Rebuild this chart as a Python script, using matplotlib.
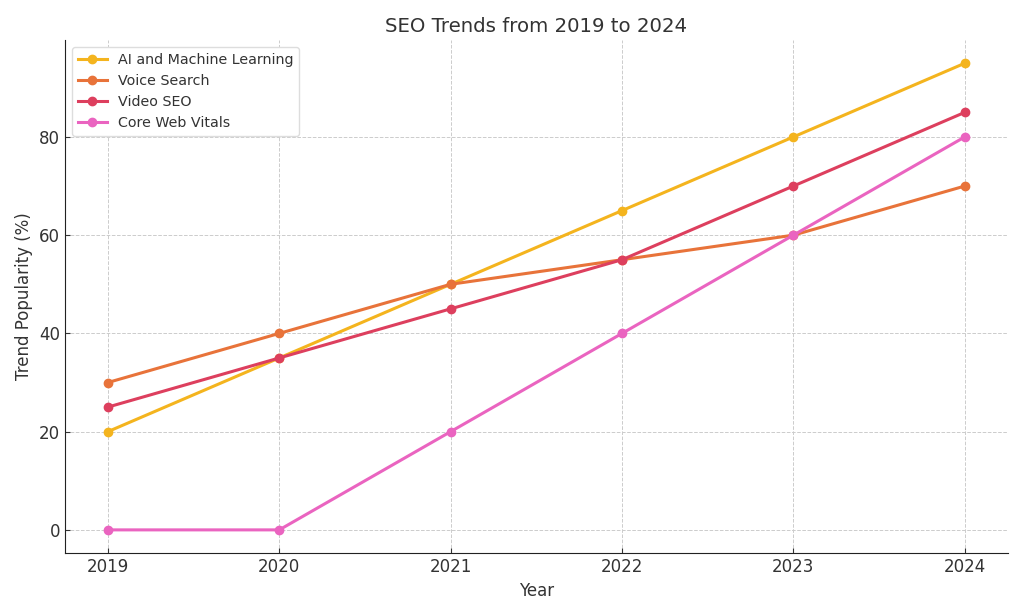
import matplotlib.pyplot as plt

years = [2019, 2020, 2021, 2022, 2023, 2024]
ai_ml = [20, 35, 50, 65, 80, 95]
voice = [30, 40, 50, 55, 60, 70]
video = [25, 35, 45, 55, 70, 85]
cwv = [0, 0, 20, 40, 60, 80]

series = [("AI and Machine Learning", ai_ml, "#f4b41e"),
          ("Voice Search", voice, "#e8733a"),
          ("Video SEO", video, "#dd3f5e"),
          ("Core Web Vitals", cwv, "#ea64c0")]

fig = plt.figure(figsize=(10.24, 6.14), dpi=100)
ax = fig.add_axes([0.0635, 0.099, 0.9205, 0.836])

for name, vals, col in series:
    ax.plot(years, vals, marker='o', color=col, linewidth=2.2, markersize=6, label=name)

ax.set_title("SEO Trends from 2019 to 2024", fontsize=14.2, color="#333333")
ax.set_xlabel("Year", fontsize=12, color="#333333")
ax.set_ylabel("Trend Popularity (%)", fontsize=12, color="#333333")
ax.set_xticks(years)
ax.tick_params(labelsize=12, colors="#333333", direction='in')
ax.grid(True, linestyle='--', color='#cccccc', linewidth=0.7)
for s in ['top', 'right']:
    ax.spines[s].set_visible(False)
ax.spines['left'].set_color('#222222')
ax.spines['bottom'].set_color('#222222')
ax.legend(loc='upper left', fontsize=10.3, labelcolor="#333333", framealpha=1, edgecolor='#dddddd')

fig.savefig("out.png")
